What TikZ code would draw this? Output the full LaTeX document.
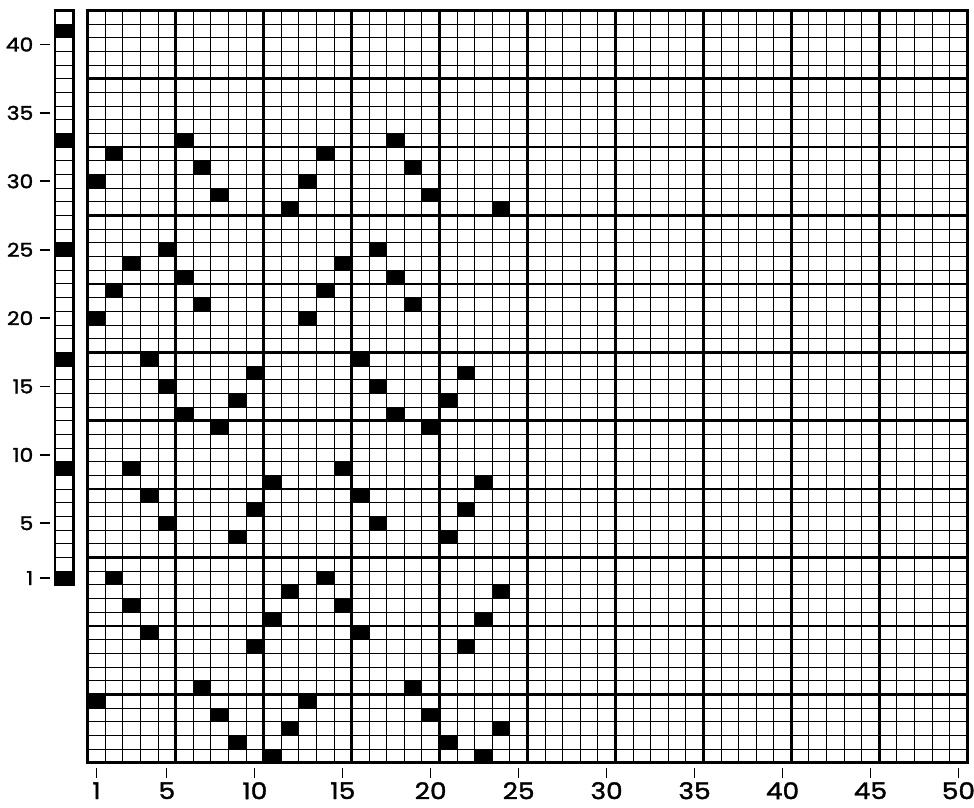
\documentclass[tikz,border=0pt]{standalone}
\usepackage{fontspec}
\setmainfont{Poppins}[FakeBold=1.6]
\newfontfamily\numfont{Poppins}[FakeBold=1.6, FakeStretch=1.15]
\begin{document}
\begin{tikzpicture}[x=1pt,y=1pt,
  thinline/.style={line width=0.85pt,line cap=rect},
  thickline/.style={line width=2.6pt,line cap=rect},
  tickline/.style={line width=1.2pt},
  dashline/.style={line width=1.8pt},
  cellfill/.style={fill=black},
  botlabel/.style={font=\numfont\fontsize{23}{23}\selectfont, inner sep=0pt},
  leftlabel/.style={font=\numfont\fontsize{19}{19}\selectfont, inner sep=0pt, anchor=east}]
\useasboundingbox[fill=white] (0,0) rectangle (974,807);
% ---------- main grid ----------
\begin{scope}[shift={(87.7pt,44.3pt)}, x=17.59pt, y=13.68pt]
  \foreach \i in {1,...,49} \draw[thinline] (\i,0) -- (\i,55);
  \foreach \j in {1,...,54} \draw[thinline] (0,\j) -- (50,\j);
  \foreach \i in {0,5,...,50} \draw[thickline] (\i,0) -- (\i,55);
  \foreach \j in {0,5,...,55} \draw[thickline] (0,\j) -- (50,\j);
  % filled cells (column, row from bottom)
  \foreach \c/\r in {
    1/43, 2/45, 6/46, 7/44, 8/42, 12/41, 13/43, 14/45, 18/46, 19/44, 20/42, 24/41,
    1/33, 2/35, 3/37, 5/38, 6/36, 7/34, 13/33, 14/35, 15/37, 17/38, 18/36, 19/34,
    4/30, 5/28, 6/26, 8/25, 9/27, 10/29, 16/30, 17/28, 18/26, 20/25, 21/27, 22/29,
    3/22, 4/20, 5/18, 9/17, 10/19, 11/21, 15/22, 16/20, 17/18, 21/17, 22/19, 23/21,
    2/14, 3/12, 4/10, 10/9, 11/11, 12/13, 14/14, 15/12, 16/10, 22/9, 23/11, 24/13,
    1/5, 7/6, 8/4, 9/2, 11/1, 12/3, 13/5, 19/6, 20/4, 21/2, 23/1, 24/3}
    \fill[cellfill] (\c-1,\r-1) rectangle (\c,\r);
  % bottom scale
  \foreach \c in {1,5,10,...,50} {
    \draw[tickline] ([yshift=-5pt]\c-0.5,0) -- ([yshift=-15pt]\c-0.5,0);
    \node[botlabel] (b\c) at ([yshift=-28pt]\c-0.5,0) {\c};
  }
\end{scope}
% ---------- left strip ----------
\begin{scope}[shift={(55pt,44.3pt)}, x=18.5pt, y=13.68pt]
  \foreach \k in {1,9,17,25,33,41}
    \fill[cellfill] (0,\k+12) rectangle (1,\k+13);
  \foreach \j in {14,...,54} \draw[thinline] (0,\j) -- (1,\j);
  \draw[thickline] (0,13) rectangle (1,55);
  \foreach \k in {1,5,10,...,40} {
    \node[leftlabel] (l\k) at ([xshift=-21.5pt]0,\k+12.5) {\k};
    \draw[dashline] ([xshift=-15pt]0,\k+12.5) -- ([xshift=-5pt]0,\k+12.5);
  }
\end{scope}
\end{tikzpicture}
\end{document}
